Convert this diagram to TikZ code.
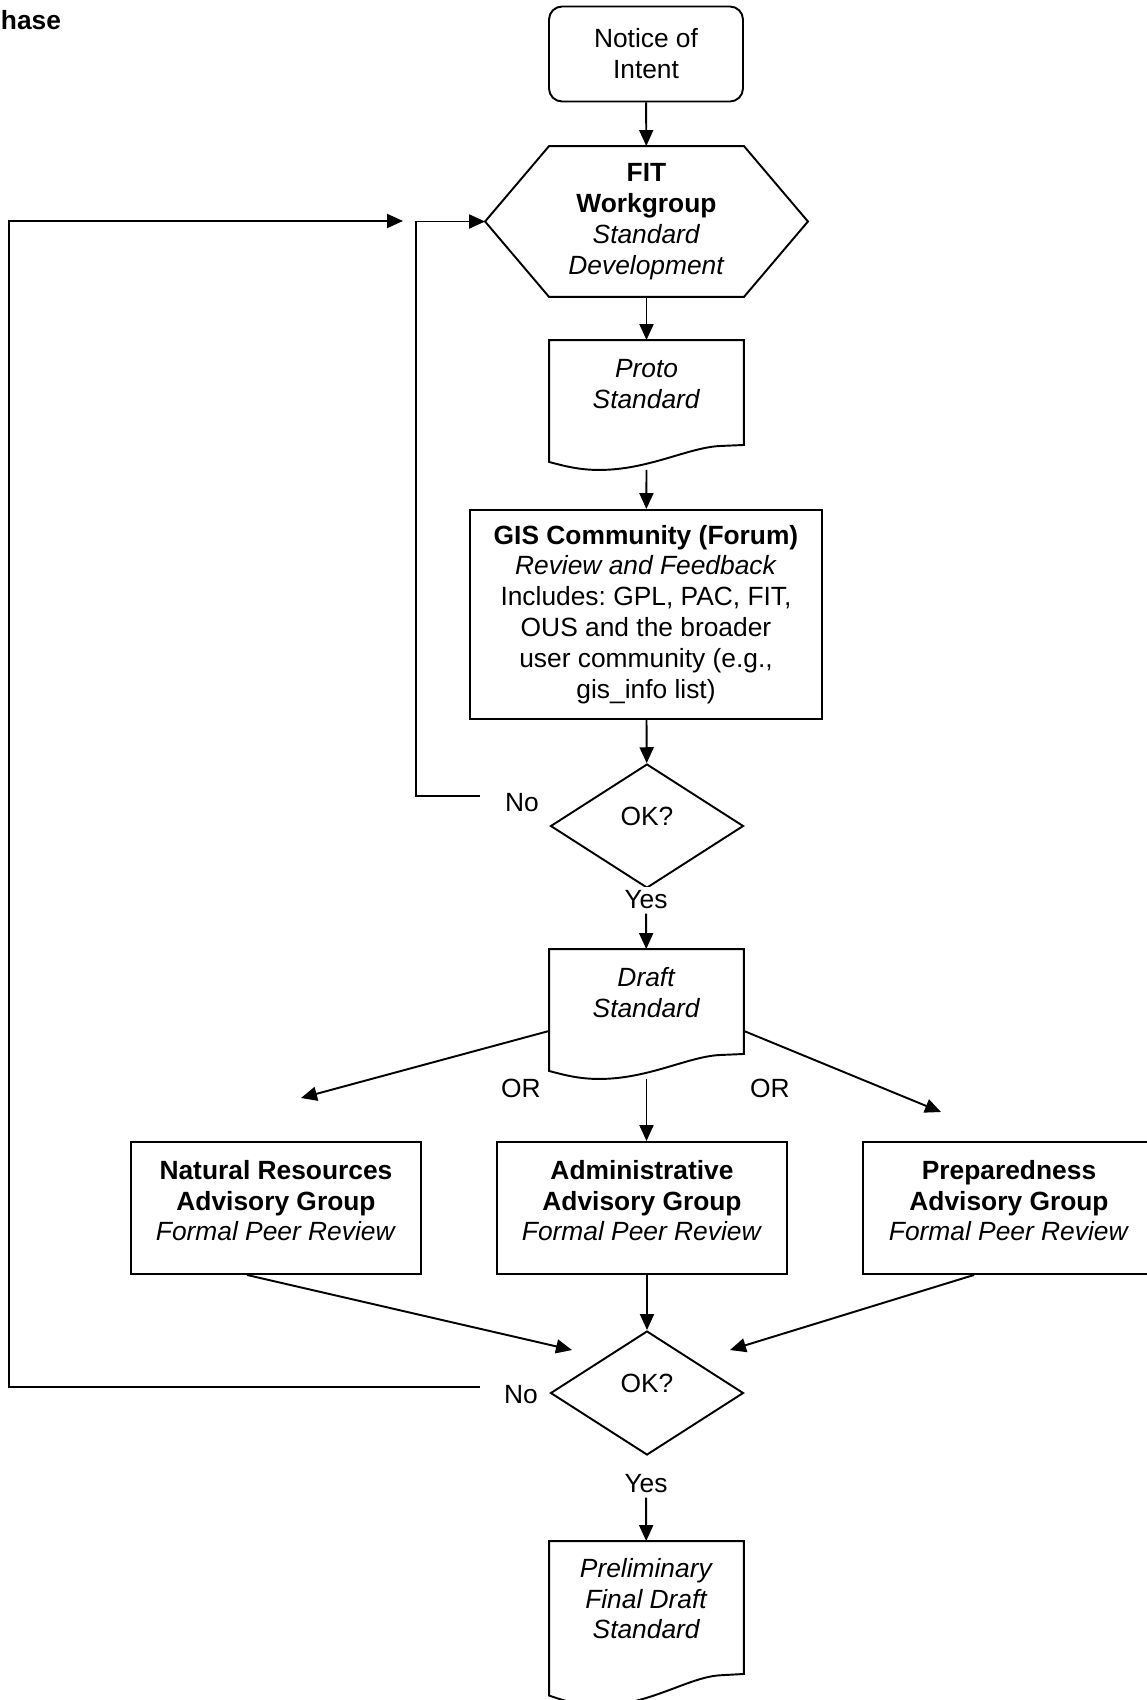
\documentclass[tikz,border=0pt]{standalone}
\usepackage{fontspec}
\setmainfont{Liberation Sans}
\usetikzlibrary{arrows.meta, calc, shapes.geometric}
\frenchspacing

\tikzset{
  plain/.style = {align=center, inner sep=0pt},
  notebox/.style = {plain, draw, rounded corners=0.26cm, minimum width=3.88cm, minimum height=1.9cm},
  hexbox/.style = {plain, minimum width=6.42cm, minimum height=2.98cm},
  docbox/.style = {plain, minimum width=3.86cm, minimum height=2.06cm, text depth=0.36cm},
  forumbox/.style = {plain, draw, minimum width=7.04cm, minimum height=4.18cm},
  groupbox/.style = {plain, draw, minimum width=5.8cm, minimum height=2.64cm, text depth=0.3cm},
  decision/.style = {plain, draw, diamond, minimum width=3.86cm, minimum height=2.48cm, text depth=0.4cm},
  tag/.style = {inner sep=2pt, fill=white}
}

\newcommand{\hexoutline}[2]{%
  \draw (#1.west) -- ($(#1.north west)+(#2,0)$) -- ($(#1.north east)+(-#2,0)$) -- (#1.east)
    -- ($(#1.south east)+(-#2,0)$) -- ($(#1.south west)+(#2,0)$) -- cycle;}

\newcommand{\docoutline}[2]{%
  \draw (#1.south east) -- (#1.north east) -- (#1.north west) -- ($(#1.south west)+(0,17*#2)$)
    .. controls ($(#1.south west)+(15,21*#2)$) and ($(#1.south west)+(30,25*#2)$) .. ($(#1.south west)+(50,25*#2)$)
    .. controls ($(#1.south west)+(100,25*#2)$) and ($(#1.south west)+(140,2*#2)$) .. ($(#1.south west)+(172,1*#2)$)
    -- cycle;}

\begin{document}
\begin{tikzpicture}[x=0.02cm, y=-0.02cm, line width=1.1pt,
    font=\fontsize{15}{17.6}\selectfont,
    >={Triangle[length=0.32cm, width=0.28cm]}]
  \useasboundingbox (0,0) rectangle (1146,1700);

  \node[inner sep=0pt, anchor=base west] (phase) at (0,30) {\textbf{hase}};

  \node[notebox] (intent) at (646,54) {Notice of\\Intent};
  \node[hexbox] (fit) at (646.5,221.5) {\textbf{FIT}\\\textbf{Workgroup}\\\textit{Standard}\\\textit{Development}};
  \hexoutline{fit}{64}
  \node[docbox] (proto) at (646.5,392.5) {\textit{Proto}\\\textit{Standard}};
  \docoutline{proto}{1}
  \node[forumbox] (forum) at (646,614.5) {\textbf{GIS Community (Forum)}\\\textit{Review and Feedback}\\Includes: GPL, PAC, FIT,\\OUS and the broader\\user community (e.g.,\\gis\_info list)};
  \node[decision] (ok1) at (647,826) {OK?};
  \node[tag] (no1) at (522,803) {No};
  \node[tag] (yes1) at (646,900) {Yes};
  \node[docbox] (draft) at (646.5,1001.5) {\textit{Draft}\\\textit{Standard}};
  \docoutline{draft}{1}
  \node[tag] (or1) at (521,1088) {OR};
  \node[tag] (or2) at (770,1088) {OR};
  \node[groupbox] (natres) at (276,1208) {\textbf{Natural Resources}\\\textbf{Advisory Group}\\\textit{Formal Peer Review}};
  \node[groupbox] (admin) at (642,1208) {\textbf{Administrative}\\\textbf{Advisory Group}\\\textit{Formal Peer Review}};
  \node[groupbox, minimum width=5.84cm] (prep) at (1009,1208) {\textbf{Preparedness}\\\textbf{Advisory Group}\\\textit{Formal Peer Review}};
  \node[decision] (ok2) at (647,1393) {OK?};
  \node[tag] (no2) at (521,1395) {No};
  \node[tag] (yes2) at (646,1484) {Yes};
  \node[docbox, minimum height=2.62cm] (prelim) at (646.5,1607.5) {\textit{Preliminary}\\\textit{Final Draft}\\\textit{Standard}};
  \docoutline{prelim}{1.27}

  \coordinate (proto-out) at ($(proto.south)+(0,25)$);
  \coordinate (no1-start) at (480,796);
  \coordinate (no1-turn) at (416,796);
  \coordinate (draft-l) at ($(draft.south west)+(0,-23)$);
  \coordinate (draft-r) at ($(draft.south east)+(0,-23)$);
  \coordinate (draft-out) at ($(draft.south)+(0,25)$);
  \coordinate (to-natres) at (301,1098);
  \coordinate (to-prep) at (941,1112);
  \coordinate (natres-out) at ($(natres.south)+(-29,0)$);
  \coordinate (prep-out) at ($(prep.south)+(-35,0)$);
  \coordinate (from-natres) at (572,1350);
  \coordinate (from-prep) at (730,1350);
  \coordinate (no2-start) at (480,1387);
  \coordinate (no2-turn) at (9,1387);
  \coordinate (no2-end) at (403,221);

  \draw[->] (intent) to (fit);
  \draw[->] (fit) to (proto);
  \draw[->] (proto-out) to (forum);
  \draw[->] (forum) to (ok1);
  \draw[->] (no1-start) -- (no1-turn) |- (fit.west);
  \draw[->] (yes1) to (draft);
  \draw[->] (draft-l) to (to-natres);
  \draw[->] (draft-r) to (to-prep);
  \draw[->] (draft-out) to (draft-out |- admin.north);
  \draw[->] (natres-out) to (from-natres);
  \draw[->] (ok2.north |- admin.south) to (ok2.north);
  \draw[->] (prep-out) to (from-prep);
  \draw[->] (no2-start) -- (no2-turn) |- (no2-end);
  \draw[->] (yes2) to (prelim);
\end{tikzpicture}
\end{document}
